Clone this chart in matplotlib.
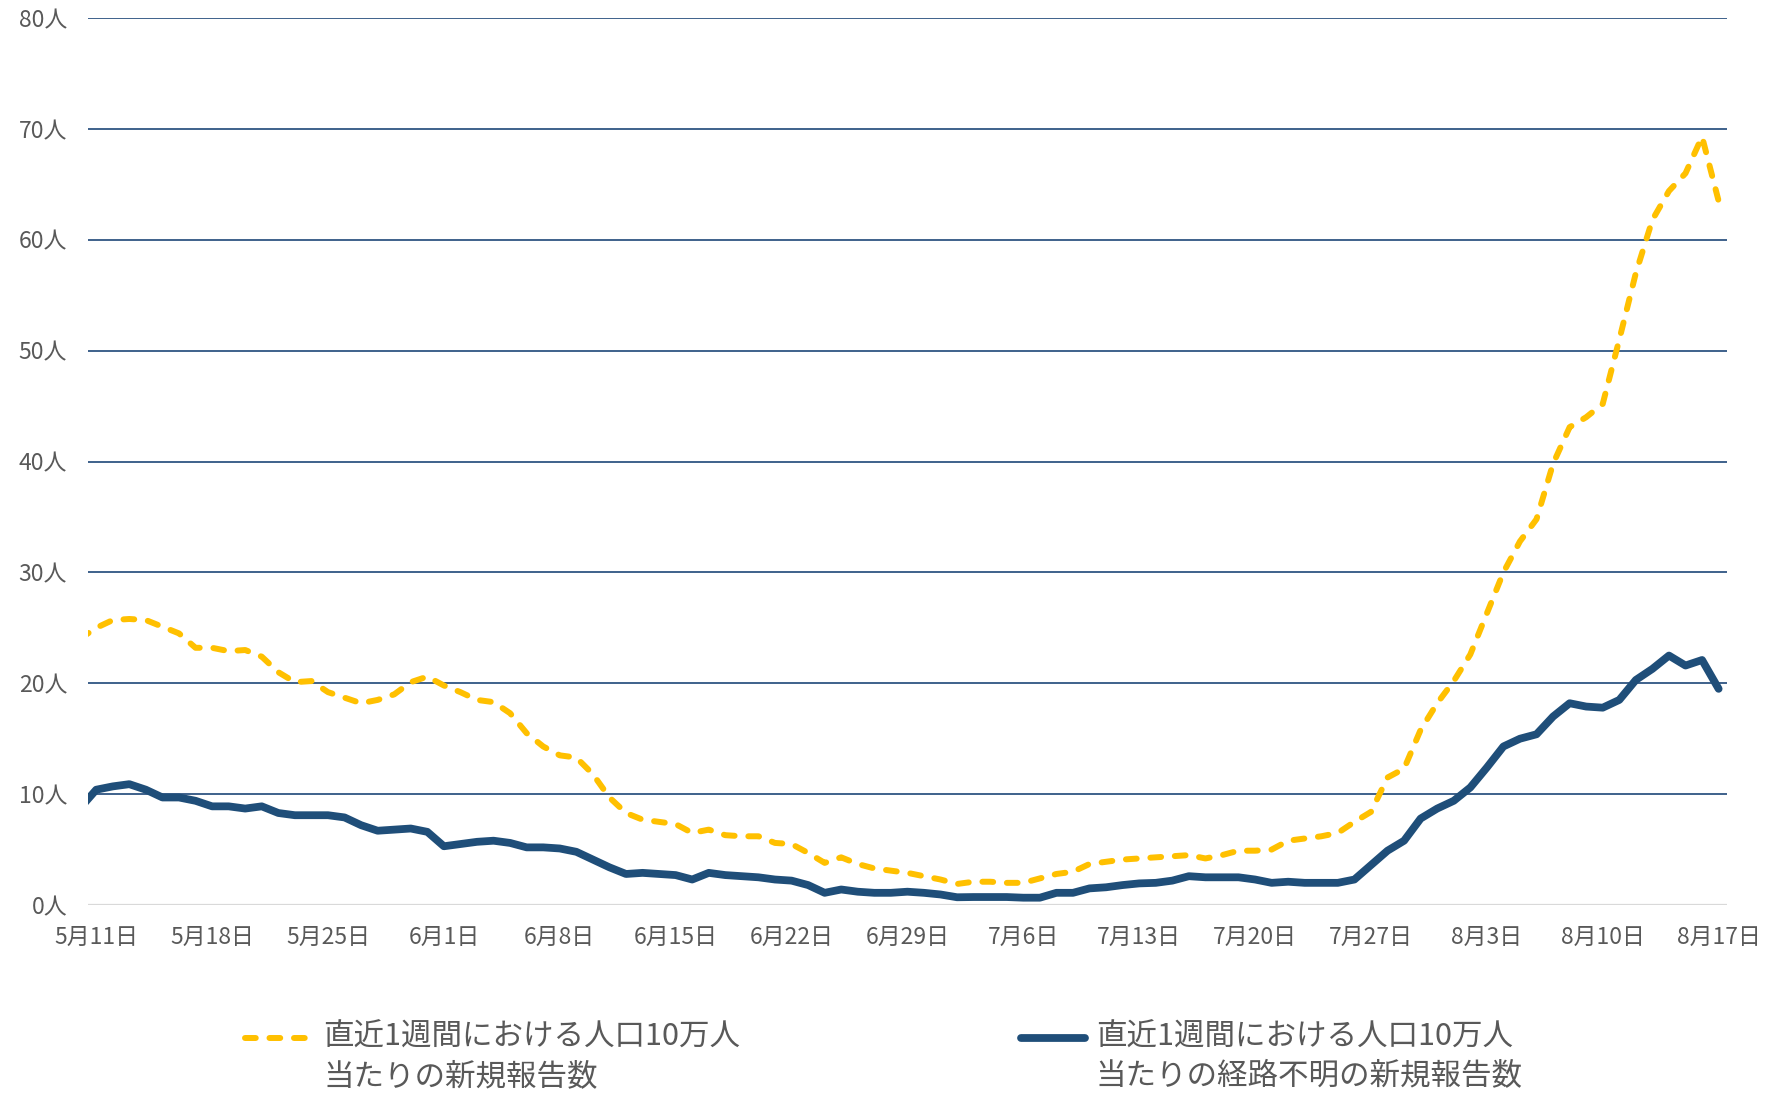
import numpy as np
import matplotlib
matplotlib.use("Agg")
import matplotlib.pyplot as plt
from matplotlib.lines import Line2D

plt.rcParams['font.family'] = ['Noto Sans CJK JP', 'DejaVu Sans']

# daily values from 5/10 to 8/17 (first point sits just left of the axis)
new_cases = [
    24.0, 25.0, 25.7, 25.8, 25.7, 25.1, 24.5, 23.2, 23.2, 22.9,
    23.0, 22.4, 21.0, 20.1, 20.2, 19.2, 18.7, 18.2, 18.5, 19.0,
    20.1, 20.6, 19.8, 19.2, 18.5, 18.3, 17.3, 15.5, 14.3, 13.5,
    13.3, 11.8, 9.7, 8.3, 7.7, 7.5, 7.3, 6.5, 6.8, 6.3,
    6.2, 6.2, 5.6, 5.5, 4.7, 3.8, 4.3, 3.7, 3.3, 3.1,
    2.9, 2.6, 2.3, 1.9, 2.1, 2.1, 2.0, 2.0, 2.4, 2.8,
    3.0, 3.7, 3.9, 4.1, 4.2, 4.3, 4.4, 4.5, 4.2, 4.5,
    4.9, 4.9, 5.0, 5.8, 6.0, 6.2, 6.5, 7.5, 8.4, 11.5,
    12.3, 15.8, 18.2, 20.2, 22.6, 26.3, 30.0, 32.8, 34.8, 39.8,
    43.1, 44.0, 45.2, 51.0, 57.0, 61.8, 64.4, 66.0, 69.3, 63.5,
]
unknown_route = [
    8.7, 10.4, 10.7, 10.9, 10.4, 9.7, 9.7, 9.4, 8.9, 8.9,
    8.7, 8.9, 8.3, 8.1, 8.1, 8.1, 7.9, 7.2, 6.7, 6.8,
    6.9, 6.6, 5.3, 5.5, 5.7, 5.8, 5.6, 5.2, 5.2, 5.1,
    4.8, 4.1, 3.4, 2.8, 2.9, 2.8, 2.7, 2.3, 2.9, 2.7,
    2.6, 2.5, 2.3, 2.2, 1.8, 1.1, 1.4, 1.2, 1.1, 1.1,
    1.2, 1.1, 0.95, 0.7, 0.72, 0.72, 0.72, 0.66, 0.66, 1.1,
    1.1, 1.5, 1.6, 1.8, 1.95, 2.0, 2.2, 2.6, 2.5, 2.5,
    2.5, 2.3, 2.0, 2.1, 2.0, 2.0, 2.0, 2.3, 3.6, 4.9,
    5.8, 7.8, 8.7, 9.4, 10.6, 12.4, 14.3, 15.0, 15.4, 17.0,
    18.2, 17.9, 17.8, 18.5, 20.3, 21.3, 22.5, 21.6, 22.1, 19.5,
]
x_labels = ["5月11日", "5月18日", "5月25日", "6月1日", "6月8日", "6月15日",
            "6月22日", "6月29日", "7月6日", "7月13日", "7月20日", "7月27日",
            "8月3日", "8月10日", "8月17日"]
y_ticks = [0, 10, 20, 30, 40, 50, 60, 70, 80]
label_new = ["直近1週間における人口10万人", "当たりの新規報告数"]
label_unknown = ["直近1週間における人口10万人", "当たりの経路不明の新規報告数"]

YELLOW = "#FFC000"
NAVY = "#1F4E79"
GRID = "#2F5582"
TXT = "#595959"

days = np.arange(len(new_cases)) - 1   # day 0 = 5/11

fig = plt.figure(figsize=(17.73, 10.95), dpi=100)
ax = fig.add_axes([0.0496, 0.1735, 0.9244, 0.8100])

ax.plot(days, new_cases, color=YELLOW, lw=4.3, dashes=(1.8, 2.3),
        dash_capstyle="round", solid_capstyle="round", zorder=3)
ax.plot(days, unknown_route, color=NAVY, lw=5.6,
        solid_capstyle="round", solid_joinstyle="round", zorder=4)

ax.set_xlim(-0.5, 98.5)
ax.set_ylim(0, 80)
ax.set_xticks(np.arange(len(x_labels)) * 7)
ax.set_xticklabels(x_labels)
ax.set_yticks(y_ticks)
ax.set_yticklabels([f"{v}人" for v in y_ticks])
ax.tick_params(axis="both", length=0, labelsize=16.5, labelcolor=TXT)
ax.tick_params(axis="x", pad=15)
ax.tick_params(axis="y", pad=15)

ax.grid(axis="y", color=GRID, lw=1.3, zorder=1)
ax.set_axisbelow(True)
ax.get_ygridlines()[0].set_color("#D9D9D9")
ax.get_ygridlines()[0].set_linewidth(1.6)
for s in ax.spines.values():
    s.set_visible(False)

# legend drawn by hand so the handle lines up with the first text line
y1, y2 = 0.0525, 0.0165
fig.add_artist(Line2D([0.138, 0.175], [y1, y1], transform=fig.transFigure,
                      color=YELLOW, lw=4.3, dashes=(1.8, 2.3),
                      dash_capstyle="round"))
fig.add_artist(Line2D([0.576, 0.612], [y1, y1], transform=fig.transFigure,
                      color=NAVY, lw=5.6, solid_capstyle="round"))
for xt, lines in [(0.1825, label_new), (0.618, label_unknown)]:
    fig.text(xt, y1, lines[0], fontsize=22, color=TXT, va="center", ha="left")
    fig.text(xt, y2, lines[1], fontsize=22, color=TXT, va="center", ha="left")

fig.savefig("out.png", dpi=100)
